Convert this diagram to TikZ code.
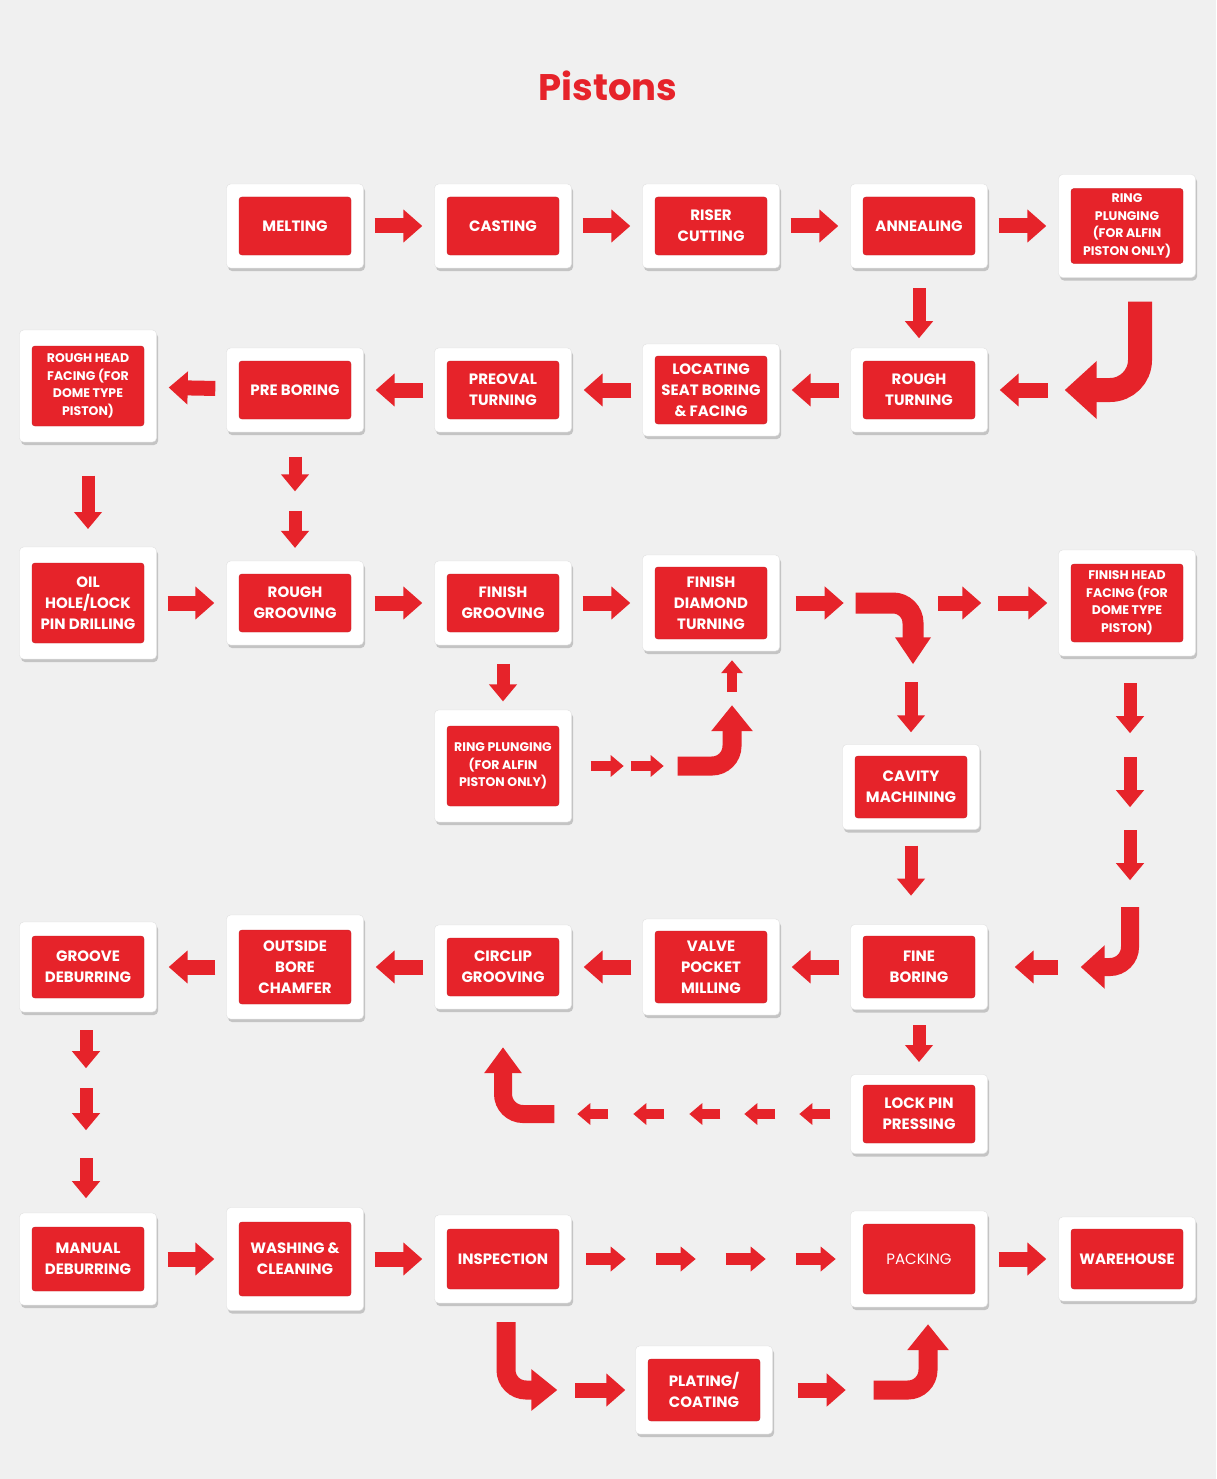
\documentclass[tikz,border=0pt]{standalone}
\usepackage{fontspec}
\setmainfont{Poppins}
\usetikzlibrary{arrows.meta,calc,shadows}
\definecolor{pred}{RGB}{230,35,42}
\definecolor{bggray}{RGB}{240,240,240}

\begin{document}
\begin{tikzpicture}[x=1pt,y=-1pt,
  card/.style={fill=white, draw=black!12, rounded corners=4pt, minimum width=137pt,
    minimum height=#1, inner sep=0pt,
    drop shadow={shadow xshift=1.5pt, shadow yshift=-3pt, fill=black, opacity=0.18}},
  card/.default=84pt,
  redbox/.style={fill=pred, draw=pred!85!black, rounded corners=3pt, minimum width=112pt,
    minimum height=#1, inner sep=1pt, text=white, align=center,
    font=\bfseries\fontsize{15}{21}\selectfont},
  redbox/.default=58pt,
  tight/.style={font=\bfseries\fontsize{12.5}{17.5}\selectfont},
  spaced/.style={shorten <=11pt, shorten >=12pt},
  harr/.style={draw=pred, line width=15pt, -{Triangle[width=32pt,length=19pt]}},
  varr/.style={draw=pred, line width=13pt, -{Triangle[width=27pt,length=17pt]}},
  marr/.style={draw=pred, line width=12pt, -{Triangle[width=24pt,length=15pt]}},
  sarr/.style={draw=pred, line width=10pt, -{Triangle[width=21pt,length=13pt]}},
  bendarr/.style={draw=pred, line width=19pt, rounded corners=20pt,
    -{Triangle[width=40pt,length=26pt]}}
]
\useasboundingbox (0,0) rectangle (1216,1479);
\fill[bggray] (0,0) rectangle (1216,1479);

\node[text=pred, font=\bfseries\fontsize{37}{40}\selectfont] (title) at (608,86) {Pistons};

% row 1
\node[card, label={[redbox]center:MELTING}] (melt) at (295,226) {};
\node[card, label={[redbox]center:CASTING}] (cast) at (503,226) {};
\node[card, label={[redbox]center:{RISER\\CUTTING}}] (riser) at (711,226) {};
\node[card, label={[redbox]center:ANNEALING}] (anneal) at (919,226) {};
\node[card=103pt, label={[redbox=75pt,tight]center:{RING\\PLUNGING\\(FOR ALFIN\\PISTON ONLY)}}] (ring) at (1127,226) {};

% row 2
\node[card, label={[redbox]center:{ROUGH\\TURNING}}] (rturn) at (919,390) {};
\node[card=92pt, label={[redbox=68pt]center:{LOCATING\\SEAT BORING\\\& FACING}}] (locseat) at (711,390) {};
\node[card, label={[redbox]center:{PREOVAL\\TURNING}}] (preoval) at (503,390) {};
\node[card, label={[redbox]center:{PRE BORING}}] (pbore) at (295,390) {};
\node[card=112pt, label={[redbox=80pt,tight]center:{ROUGH HEAD\\FACING (FOR\\DOME TYPE\\PISTON)}}] (rhead) at (88,386) {};

% row 3
\node[card=112pt, label={[redbox=80pt]center:{OIL\\HOLE/LOCK\\PIN DRILLING}}] (oilh) at (88,603) {};
\node[card, label={[redbox]center:{ROUGH\\GROOVING}}] (rgroove) at (295,603) {};
\node[card, label={[redbox]center:{FINISH\\GROOVING}}] (fgroove) at (503,603) {};
\node[card=96pt, label={[redbox=72pt]center:{FINISH\\DIAMOND\\TURNING}}] (fdia) at (711,603) {};
\node[card=106pt, label={[redbox=78pt,tight]center:{FINISH HEAD\\FACING (FOR\\DOME TYPE\\PISTON)}}] (fhead) at (1127,603) {};
\node[card=112pt, label={[redbox=80pt,tight]center:{RING PLUNGING\\(FOR ALFIN\\PISTON ONLY)}}] (ringb) at (503,766) {};
\node[card=85pt, label={[redbox=62pt]center:{CAVITY\\MACHINING}}] (cavity) at (911,787) {};

% row 4
\node[card=85pt, label={[redbox=62pt]center:{FINE\\BORING}}] (fbore) at (919,967) {};
\node[card=96pt, label={[redbox=72pt]center:{VALVE\\POCKET\\MILLING}}] (valve) at (711,967) {};
\node[card, label={[redbox]center:{CIRCLIP\\GROOVING}}] (circlip) at (503,967) {};
\node[card=104pt, label={[redbox=74pt]center:{OUTSIDE\\BORE\\CHAMFER}}] (chamfer) at (295,967) {};
\node[card=90pt, label={[redbox=62pt]center:{GROOVE\\DEBURRING}}] (gdeb) at (88,967) {};
\node[card=79pt, label={[redbox=58pt]center:{LOCK PIN\\PRESSING}}] (lpin) at (919,1114) {};

% row 5
\node[card=92pt, label={[redbox=64pt]center:{MANUAL\\DEBURRING}}] (mdeb) at (88,1259) {};
\node[card=103pt, label={[redbox=74pt]center:{WASHING \&\\CLEANING}}] (wash) at (295,1259) {};
\node[card=88pt, label={[redbox=60pt]center:INSPECTION}] (insp) at (503,1259) {};
\node[card=96pt, label={[redbox=70pt,font=\fontsize{15}{21}\selectfont]center:PACKING}] (pack) at (919,1259) {};
\node[card, label={[redbox=60pt]center:WAREHOUSE}] (ware) at (1127,1259) {};
\node[card=88pt, label={[redbox=62pt]center:{PLATING/\\COATING}}] (plat) at (704,1390) {};

% arrows, top half
\foreach \a/\b in {melt/cast, cast/riser, riser/anneal, anneal/ring,
                   rturn/locseat, locseat/preoval, preoval/pbore, pbore/rhead,
                   oilh/rgroove, rgroove/fgroove, fgroove/fdia}
  \draw[harr, spaced] (\a) -- (\b);
\draw[varr] ($(anneal.south)!0.25!(rturn.north)$) -- ($(anneal.south)!0.88!(rturn.north)$);
\draw[bendarr, line width=24pt, rounded corners=30pt, -{Triangle[width=56pt,length=32pt]}]
  ($(ring.south)+(13,24)$) |- ($(rturn.east)+(77,0)$);
\draw[harr] ($(rturn.east)+(60,0)$) -- ($(rturn.east)+(12,0)$);
\draw[varr] ($(rhead.south)!0.32!(oilh.north)$) -- ($(rhead.south)!0.83!(oilh.north)$);
\foreach \s/\e in {0.19/0.46, 0.61/0.90}
  \draw[varr] ($(pbore.south)!\s!(rgroove.north)$) -- ($(pbore.south)!\e!(rgroove.north)$);

% arrows around finish diamond turning
\draw[harr] ($(fdia.east)+(16,0)$) -- ($(fdia.east)+(64,0)$);
\draw[bendarr, line width=21pt, -{Triangle[width=34pt,length=27pt]}]
  ($(fdia.east)+(76,0)$) -| ($(cavity.north)+(2,-80)$);
\draw[varr] ($(cavity.north)+(0,-62)$) -- ($(cavity.north)+(0,-12)$);
\draw[harr] ($(fhead.west)+(-120,0)$) -- ++(43,0);
\draw[harr] ($(fhead.west)+(-60,0)$) -- ++(49,0);
\draw[varr] ($(fgroove.south)!0.29!(ringb.north)$) -- ($(fgroove.south)!0.87!(ringb.north)$);
\foreach \d in {19,59}
  \draw[sarr] ($(ringb.east)+(\d,0)$) -- ++(33,0);
\draw[bendarr] ($(ringb.east)+(106,0)$) -| ($(fdia.south)+(21,54)$);
\draw[sarr] ($(fdia.south)+(21,41)$) -- ($(fdia.south)+(21,9)$);

% right column down to fine boring
\foreach \d in {27,101,174}
  \draw[varr] ($(fhead.south)+(3,\d)$) -- ++(0,50);
\draw[bendarr, line width=18pt, -{Triangle[width=42pt,length=24pt]}]
  ($(fhead.south)+(3,251)$) |- ($(fbore.east)+(93,0)$);
\draw[harr] ($(fbore.east)+(70,0)$) -- ($(fbore.east)+(27,0)$);
\draw[varr] ($(cavity.south)+(0,16)$) -- ($(cavity.south)+(0,66)$);

% row 4 and lock pin
\foreach \a/\b in {fbore/valve, valve/circlip, circlip/chamfer, chamfer/gdeb}
  \draw[harr, spaced] (\a) -- (\b);
\draw[varr] ($(fbore.south)!0.24!(lpin.north)$) -- ($(fbore.south)!0.81!(lpin.north)$);
\foreach \d in {20,75,130,186,242}
  \draw[sarr] ($(lpin.west)+(-\d,0)$) -- ++(-31,0);
\draw[bendarr, line width=18pt, -{Triangle[width=36pt,length=26pt]}]
  ($(lpin.west)+(-296,0)$) -| ($(circlip.south)+(0,38)$);
\foreach \s/\e in {18/56, 76/118, 146/186}
  \draw[varr] ($(gdeb.south)+(-2,\s)$) -- ($(gdeb.south)+(-2,\e)$);

% row 5
\foreach \a/\b in {mdeb/wash, wash/insp, pack/ware}
  \draw[harr, spaced] (\a) -- (\b);
\foreach \d in {14,84,154,224}
  \draw[marr] ($(insp.east)+(\d,0)$) -- ++(40,0);
\draw[bendarr] ($(insp.south)+(3,19)$) |- ($(plat.west)+(-78,0)$);
\draw[harr] ($(plat.west)+(-60,0)$) -- ($(plat.west)+(-10,0)$);
\draw[harr] ($(plat.east)+(25,0)$) -- ($(plat.east)+(73,0)$);
\draw[bendarr] ($(plat.east)+(101,0)$) -| ($(pack.south)+(9,17)$);
\end{tikzpicture}
\end{document}
